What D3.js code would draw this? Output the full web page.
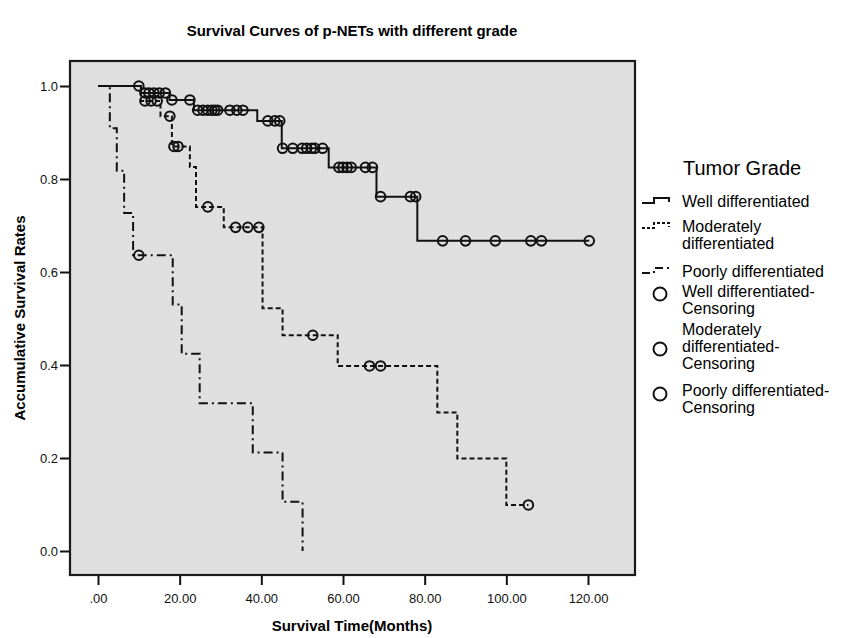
<!DOCTYPE html>
<html>
<head>
<meta charset="utf-8">
<script src="https://cdn.jsdelivr.net/npm/d3@7"></script>
<style>
  body { margin: 0; background: #fff; }
  svg { font-family: Arial, "Liberation Sans", sans-serif; }
</style>
</head>
<body>
<svg id="chart" width="843" height="638"></svg>
<script>
// Kaplan-Meier steps: [month, survival]
const wellSteps = [[0, 1], [10.5, 0.985], [17.5, 0.97], [23.5, 0.948], [39, 0.925], [45, 0.866], [56.5, 0.825], [68.2, 0.762], [78.2, 0.667]]
const wellEnd = 120.3
const moderateSteps = [[0, 1], [10.5, 0.968], [15.3, 0.935], [18.1, 0.87], [22.5, 0.826], [24, 0.74], [30.8, 0.696], [40.3, 0.522], [45.2, 0.464], [58.7, 0.398], [83.1, 0.298], [88, 0.199], [100, 0.099]]
const moderateEnd = 105.4
const poorlySteps = [[0, 1], [2.9, 0.909], [4.6, 0.818], [6.4, 0.727], [8.6, 0.636], [18.3, 0.53], [20.5, 0.424], [24.9, 0.318], [37.9, 0.212], [45.2, 0.106], [50.1, 0]]
const poorlyEnd = 50.1

// censored observations
const wellCensor = [[10, 1], [11.5, 0.985], [12.5, 0.985], [13.7, 0.985], [15, 0.985], [16.5, 0.985], [18.1, 0.97], [22.5, 0.97],
  [24.4, 0.948], [25.7, 0.948], [26.9, 0.948], [27.9, 0.948], [28.6, 0.948], [29.3, 0.948], [32.3, 0.948], [34, 0.948], [35.5, 0.948],
  [41.6, 0.925], [43.3, 0.925], [44.5, 0.925],
  [45.2, 0.866], [47.7, 0.866], [50, 0.866], [51.1, 0.866], [52.3, 0.866], [53.1, 0.866], [55, 0.866],
  [59, 0.825], [60, 0.825], [61, 0.825], [62, 0.825], [65.5, 0.825], [67.2, 0.825],
  [69.2, 0.762], [76.5, 0.762], [77.8, 0.762],
  [84.4, 0.667], [90, 0.667], [97.3, 0.667], [106, 0.667], [108.6, 0.667], [120.3, 0.667]]
const moderateCensor = [[11.5, 0.968], [13, 0.968], [14.5, 0.968], [17.6, 0.935], [18.6, 0.87], [19.6, 0.87], [26.9, 0.74],
  [33.7, 0.696], [36.7, 0.696], [39.4, 0.696], [52.6, 0.464], [66.5, 0.398], [69.2, 0.398], [105.4, 0.099]]
const poorlyCensor = [[10, 0.636]]

const xTicks = [0, 20, 40, 60, 80, 100, 120]
const yTicks = [0, 0.2, 0.4, 0.6, 0.8, 1.0]

const series = [
  { name: 'Well differentiated', steps: wellSteps, end: wellEnd, censor: wellCensor, dash: null },
  { name: 'Moderately differentiated', steps: moderateSteps, end: moderateEnd, censor: moderateCensor, dash: '5,3' },
  { name: 'Poorly differentiated', steps: poorlySteps, end: poorlyEnd, censor: poorlyCensor, dash: '9,4,2,4' }
]

const svg = d3.select('#chart')

// plot frame
const frame = { left: 70, right: 635, top: 61, bottom: 575 }

const xScale = d3.scaleLinear().domain([0, 120]).range([98, 588])
const yScale = d3.scaleLinear().domain([0, 1]).range([551, 86])

svg.append('rect')
  .attr('x', frame.left)
  .attr('y', frame.top)
  .attr('width', frame.right - frame.left)
  .attr('height', frame.bottom - frame.top)
  .attr('fill', '#dfdfdf')
  .attr('stroke', '#1a1a1a')
  .attr('stroke-width', 2.2)

// axes
const xAxis = d3.axisBottom(xScale)
  .tickValues(xTicks)
  .tickSize(9)
  .tickSizeOuter(0)
  .tickFormat((d) => d === 0 ? '.00' : d.toFixed(2))

const gx = svg.append('g')
  .attr('transform', 'translate(0,' + (frame.bottom + 1) + ')')
  .call(xAxis)
gx.select('.domain').remove()
gx.selectAll('line').attr('stroke', '#111').attr('stroke-width', 2)
gx.selectAll('text').attr('font-size', 13).attr('fill', '#111').attr('dy', '1.15em')

const yAxis = d3.axisLeft(yScale)
  .tickValues(yTicks)
  .tickSize(9)
  .tickSizeOuter(0)
  .tickFormat(d3.format('.1f'))

const gy = svg.append('g')
  .attr('transform', 'translate(' + (frame.left - 1) + ',0)')
  .call(yAxis)
gy.select('.domain').remove()
gy.selectAll('line').attr('stroke', '#111').attr('stroke-width', 2)
gy.selectAll('text').attr('font-size', 13).attr('fill', '#111').attr('x', -11)

// curves
const line = d3.line()
  .x((d) => xScale(d[0]))
  .y((d) => yScale(d[1]))
  .curve(d3.curveStepAfter)

series.forEach((s) => {
  const pts = s.steps.concat([[s.end, s.steps[s.steps.length - 1][1]]])
  svg.append('path')
    .attr('d', line(pts))
    .attr('fill', 'none')
    .attr('stroke', '#111')
    .attr('stroke-width', 2)
    .attr('stroke-dasharray', s.dash)

  svg.append('g')
    .selectAll('circle')
    .data(s.censor)
    .enter()
    .append('circle')
    .attr('cx', (d) => xScale(d[0]))
    .attr('cy', (d) => yScale(d[1]))
    .attr('r', 4.8)
    .attr('fill', 'none')
    .attr('stroke', '#111')
    .attr('stroke-width', 2)
})

// titles
svg.append('text')
  .attr('x', 352).attr('y', 36)
  .attr('text-anchor', 'middle')
  .attr('font-size', 15).attr('font-weight', 'bold')
  .text('Survival Curves of p-NETs with different grade')

svg.append('text')
  .attr('x', 352).attr('y', 631)
  .attr('text-anchor', 'middle')
  .attr('font-size', 15).attr('font-weight', 'bold')
  .text('Survival Time(Months)')

svg.append('text')
  .attr('transform', 'translate(25,318) rotate(-90)')
  .attr('text-anchor', 'middle')
  .attr('font-size', 15).attr('font-weight', 'bold')
  .text('Accumulative Survival Rates')

// legend
const legend = svg.append('g')

legend.append('text')
  .attr('x', 683).attr('y', 175)
  .attr('font-size', 20)
  .text('Tumor Grade')

const legendLines = [
  { lines: ['Well differentiated'], y: 207, dash: null },
  { lines: ['Moderately', 'differentiated'], y: 232, dash: '3,2' },
  { lines: ['Poorly differentiated'], y: 277, dash: '8,4,2,4' }
]

legendLines.forEach((item) => {
  const by = item.y - 4
  legend.append('path')
    .attr('d', `M642,${by} H654 V${by - 5} H669 V${by - 1}`)
    .attr('fill', 'none')
    .attr('stroke', '#111')
    .attr('stroke-width', 2)
    .attr('stroke-dasharray', item.dash)
  item.lines.forEach((t, i) => {
    legend.append('text')
      .attr('x', 682).attr('y', item.y + i * 17)
      .attr('font-size', 16)
      .text(t)
  })
})

const legendCircles = [
  { lines: ['Well differentiated-', 'Censoring'], y: 297, cy: 294 },
  { lines: ['Moderately', 'differentiated-', 'Censoring'], y: 335, cy: 349 },
  { lines: ['Poorly differentiated-', 'Censoring'], y: 396, cy: 394 }
]

legendCircles.forEach((item) => {
  legend.append('circle')
    .attr('cx', 660).attr('cy', item.cy)
    .attr('r', 6.5)
    .attr('fill', 'none')
    .attr('stroke', '#111')
    .attr('stroke-width', 2)
  item.lines.forEach((t, i) => {
    legend.append('text')
      .attr('x', 682).attr('y', item.y + i * 17)
      .attr('font-size', 16)
      .text(t)
  })
})
</script>
</body>
</html>
